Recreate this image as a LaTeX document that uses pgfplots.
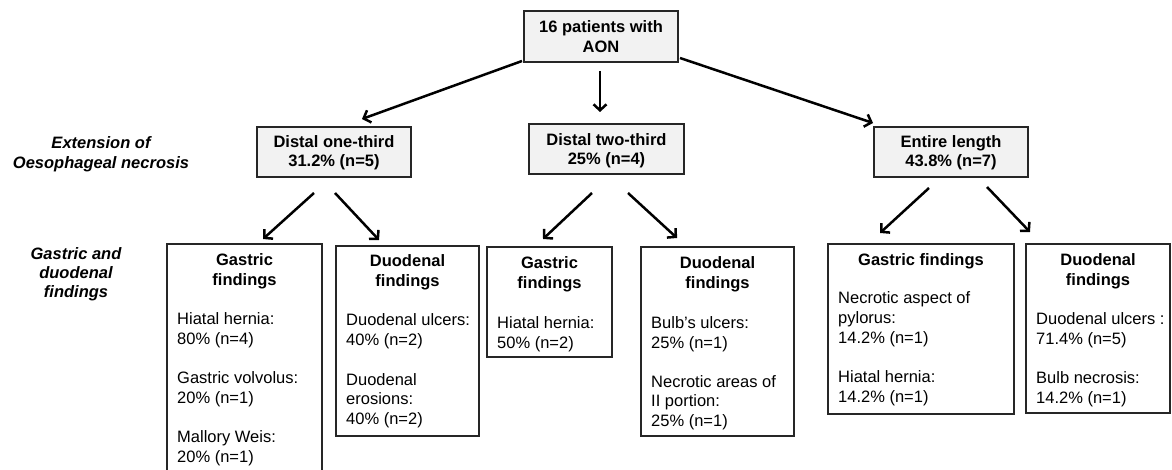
\documentclass[border=0pt]{standalone}
\usepackage{pgfplots}
\pgfplotsset{compat=1.18}
\usepackage{fontspec}
\setmainfont{Liberation Sans}
\usetikzlibrary{arrows.meta}
\definecolor{boxgray}{HTML}{F2F2F2}
\definecolor{edge}{HTML}{262626}

\begin{document}
\begin{tikzpicture}[
  every node/.style={font=\fontsize{16.5}{19.6}\selectfont, inner sep=0pt},
  lvl/.style={draw=edge, line width=1.3pt, fill=boxgray},
  fnd/.style={draw=edge, line width=1.3pt, fill=white},
  arr/.style={line width=2.5pt, -{Straight Barb[length=6pt,width=13pt]}},
  tl/.style={anchor=base, font=\fontsize{16.5}{19.6}\selectfont\bfseries},
  bl/.style={anchor=base west},
  side/.style={anchor=base, font=\fontsize{16.5}{19.6}\selectfont\bfseries\itshape},
]
\useasboundingbox (0,0) rectangle (1172pt,470pt);
\clip (0,0) rectangle (1172pt,470pt);
\begin{axis}[at={(0,0)}, anchor=south west, scale only axis,
  width=1172pt, height=470pt,
  xmin=0, xmax=1172, ymin=0, ymax=470, y dir=reverse,
  hide axis, clip=false]

% arrows
\addplot[arr] coordinates {(522,61) (362,119)};
\addplot[arr] coordinates {(600,71) (600,112)};
\addplot[arr] coordinates {(680,58) (873,123)};
\addplot[arr] coordinates {(314,193) (263,239)};
\addplot[arr] coordinates {(335,193) (379,240)};
\addplot[arr] coordinates {(592,193) (543,239)};
\addplot[arr] coordinates {(628,193) (677,238)};
\addplot[arr] coordinates {(929,188) (880,233)};
\addplot[arr] coordinates {(987,187) (1030,232)};

% top level
\draw[lvl] (axis cs:524,11) rectangle (axis cs:678,62);
\node[tl] at (axis cs:601,33) {16 patients with};
\node[tl] at (axis cs:601,52.5) {AON};

% extension of necrosis
\node[side] at (axis cs:101,148.5) {Extension of};
\node[side] at (axis cs:101,168.5) {Oesophageal necrosis};

\draw[lvl] (axis cs:257,127) rectangle (axis cs:411,177);
\node[tl] at (axis cs:334,147.5) {Distal one-third};
\node[tl] at (axis cs:334,167) {31.2\% (n=5)};

\draw[lvl] (axis cs:529,124) rectangle (axis cs:684,174);
\node[tl] at (axis cs:606.5,145.5) {Distal two-third};
\node[tl] at (axis cs:606.5,165) {25\% (n=4)};

\draw[lvl] (axis cs:874,127) rectangle (axis cs:1028,177);
\node[tl] at (axis cs:951,147.5) {Entire length};
\node[tl] at (axis cs:951,167) {43.8\% (n=7)};

% gastric and duodenal findings
\node[side] at (axis cs:76,259.5) {Gastric and};
\node[side] at (axis cs:76,278.5) {duodenal};
\node[side] at (axis cs:76,297.5) {findings};

% box 1
\draw[fnd] (axis cs:167,244) rectangle (axis cs:322,490);
\node[tl] at (axis cs:244.5,265.5) {Gastric};
\node[tl] at (axis cs:244.5,285) {findings};
\node[bl] at (axis cs:177,324.5) {Hiatal hernia:};
\node[bl] at (axis cs:177,344.2) {80\% (n=4)};
\node[bl] at (axis cs:177,383.6) {Gastric volvolus:};
\node[bl] at (axis cs:177,403.3) {20\% (n=1)};
\node[bl] at (axis cs:177,442.7) {Mallory Weis:};
\node[bl] at (axis cs:177,462.4) {20\% (n=1)};

% box 2
\draw[fnd] (axis cs:336,246) rectangle (axis cs:479,436);
\node[tl] at (axis cs:407.5,267) {Duodenal};
\node[tl] at (axis cs:407.5,286.5) {findings};
\node[bl] at (axis cs:346,325.5) {Duodenal ulcers:};
\node[bl] at (axis cs:346,345) {40\% (n=2)};
\node[bl] at (axis cs:346,385) {Duodenal};
\node[bl] at (axis cs:346,404.5) {erosions:};
\node[bl] at (axis cs:346,424) {40\% (n=2)};

% box 3
\draw[fnd] (axis cs:487,247) rectangle (axis cs:612,357);
\node[tl] at (axis cs:549.5,268.5) {Gastric};
\node[tl] at (axis cs:549.5,288) {findings};
\node[bl] at (axis cs:497,328.5) {Hiatal hernia:};
\node[bl] at (axis cs:497,348) {50\% (n=2)};

% box 4
\draw[fnd] (axis cs:641,247) rectangle (axis cs:794,436);
\node[tl] at (axis cs:717.5,268.5) {Duodenal};
\node[tl] at (axis cs:717.5,288) {findings};
\node[bl] at (axis cs:651,328.5) {Bulb’s ulcers:};
\node[bl] at (axis cs:651,348) {25\% (n=1)};
\node[bl] at (axis cs:651,387) {Necrotic areas of};
\node[bl] at (axis cs:651,406.5) {II portion:};
\node[bl] at (axis cs:651,426) {25\% (n=1)};

% box 5
\draw[fnd] (axis cs:828,244) rectangle (axis cs:1014,414);
\node[tl] at (axis cs:921,265.5) {Gastric findings};
\node[bl] at (axis cs:838,303.5) {Necrotic aspect of};
\node[bl] at (axis cs:838,323.2) {pylorus:};
\node[bl] at (axis cs:838,343) {14.2\% (n=1)};
\node[bl] at (axis cs:838,382.5) {Hiatal hernia:};
\node[bl] at (axis cs:838,402) {14.2\% (n=1)};

% box 6
\draw[fnd] (axis cs:1026,244) rectangle (axis cs:1170,413);
\node[tl] at (axis cs:1098,265.5) {Duodenal};
\node[tl] at (axis cs:1098,285) {findings};
\node[bl] at (axis cs:1036,324.5) {Duodenal ulcers :};
\node[bl] at (axis cs:1036,344) {71.4\% (n=5)};
\node[bl] at (axis cs:1036,383.5) {Bulb necrosis:};
\node[bl] at (axis cs:1036,403) {14.2\% (n=1)};

\end{axis}
\end{tikzpicture}
\end{document}
